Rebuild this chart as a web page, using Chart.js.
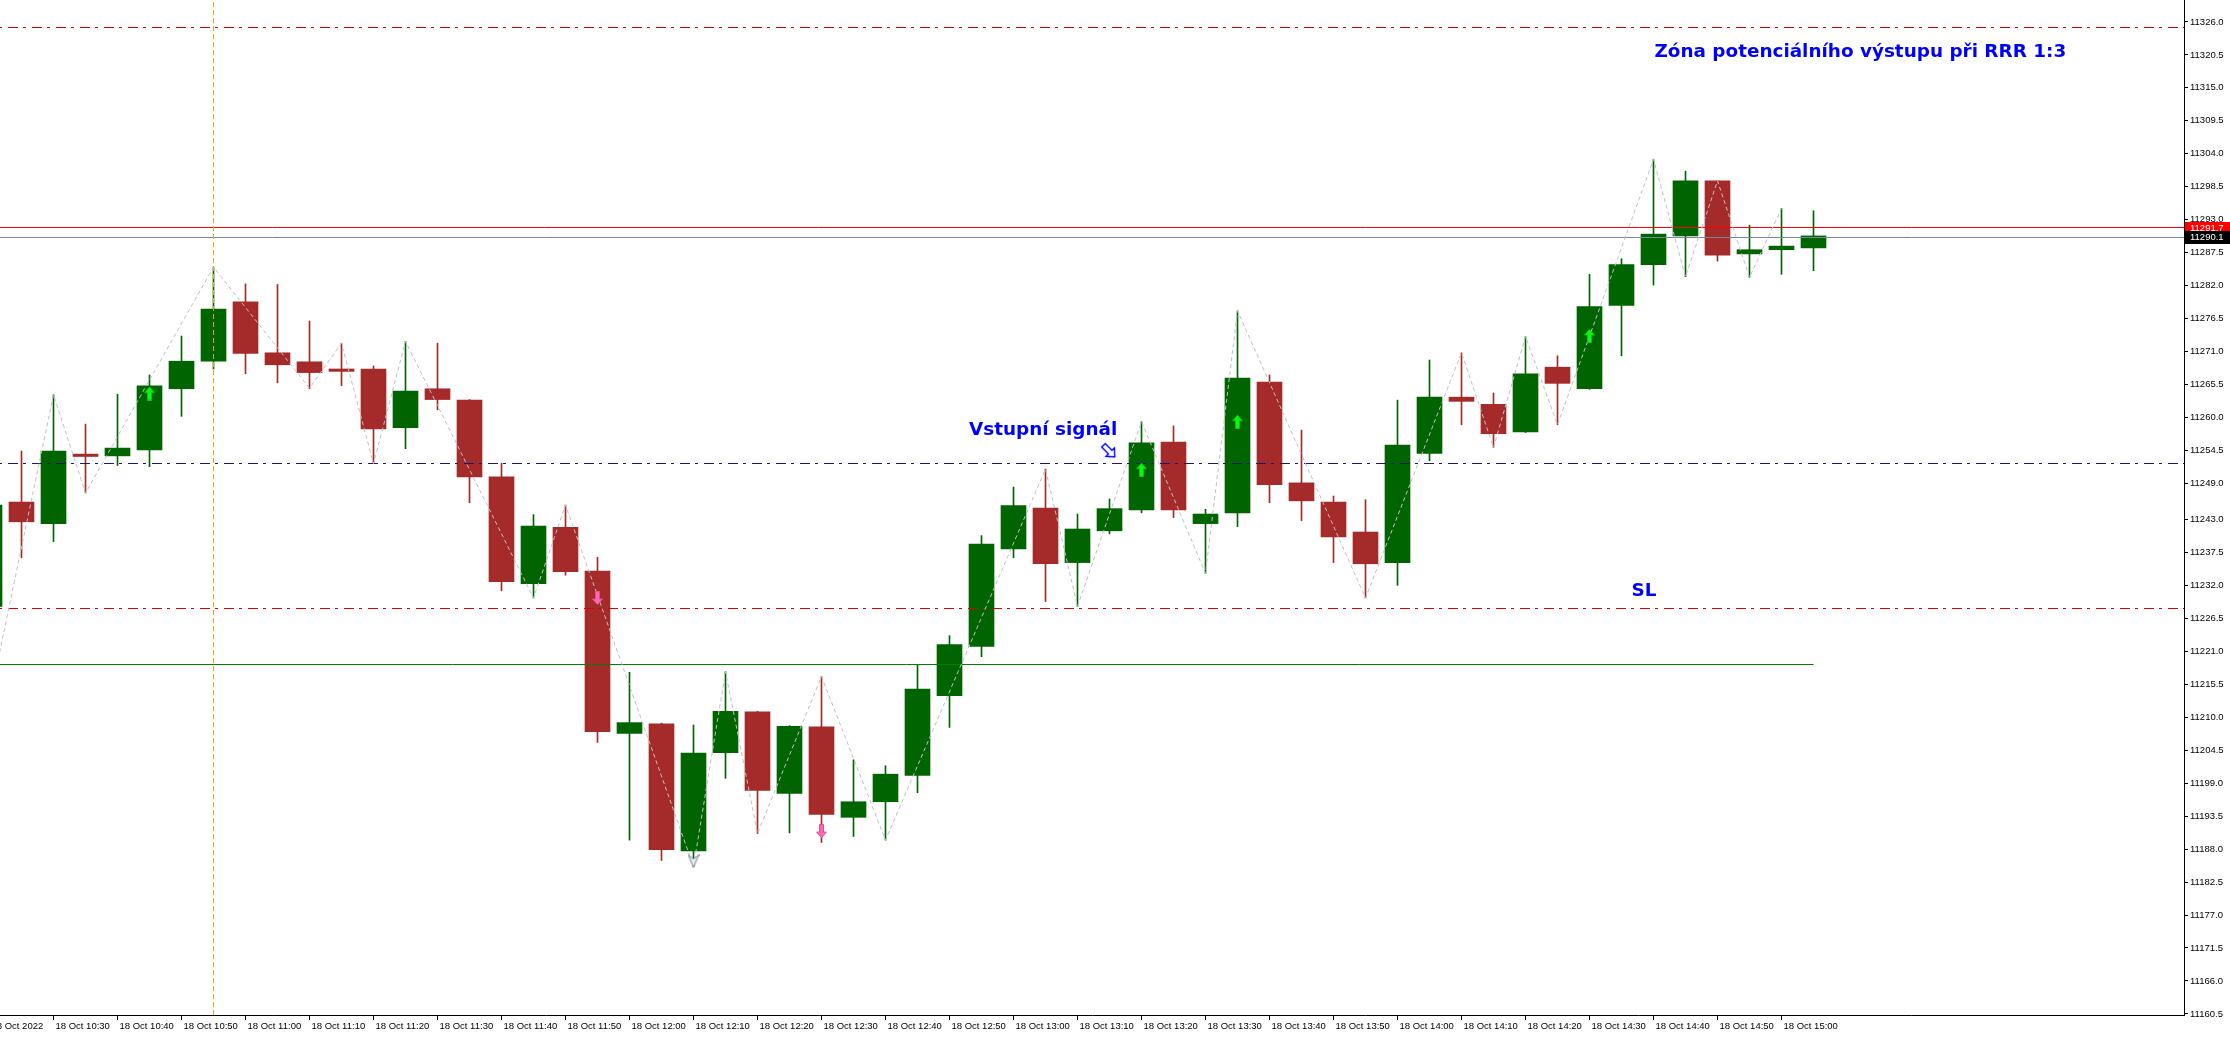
<!DOCTYPE html>
<html>
<head>
<meta charset="utf-8">
<script src="https://cdn.jsdelivr.net/npm/chart.js"></script>
<style>
html,body{margin:0;padding:0;background:#ffffff;overflow:hidden}
canvas{display:block}
</style>
</head>
<body>
<canvas id="c" width="2230" height="1037" style="width:2230px;height:1037px"></canvas>
<script>
// ---------- DATA ----------
const times = ['10:20','10:25','10:30','10:35','10:40','10:45','10:50','10:55','11:00','11:05',
  '11:10','11:15','11:20','11:25','11:30','11:35','11:40','11:45','11:50','11:55',
  '12:00','12:05','12:10','12:15','12:20','12:25','12:30','12:35','12:40','12:45',
  '12:50','12:55','13:00','13:05','13:10','13:15','13:20','13:25','13:30','13:35',
  '13:40','13:45','13:50','13:55','14:00','14:05','14:10','14:15','14:20','14:25',
  '14:30','14:35','14:40','14:45','14:50','14:55','15:00','15:05'];

const openP = [11228.5,11245.9,11242.3,11253.9,11253.6,11254.6,11264.8,11269.4,11279.3,11270.8,
  11269.3,11268.1,11268.1,11258.3,11264.8,11262.9,11250.1,11232.3,11241.7,11234.4,
  11207.3,11208.9,11187.7,11204.1,11210.9,11197.3,11208.4,11193.3,11195.9,11200.3,
  11213.6,11221.8,11238.1,11244.9,11235.8,11241.1,11244.6,11255.9,11242.3,11244.1,
  11265.9,11249.1,11245.9,11240.9,11235.8,11254.0,11263.4,11262.2,11257.6,11268.4,
  11264.8,11278.7,11285.5,11290.3,11299.5,11287.3,11288.0,11288.3];
const highP = [11246.0,11254.4,11263.8,11258.9,11263.9,11267.1,11273.6,11285.1,11282.3,11282.2,
  11276.1,11272.4,11268.6,11272.7,11272.4,11263.0,11252.4,11243.8,11245.4,11236.7,
  11217.5,11209.0,11208.7,11217.6,11211.0,11208.6,11216.8,11202.9,11201.9,11218.8,
  11223.6,11240.3,11248.4,11251.4,11243.9,11246.4,11259.3,11258.6,11244.7,11277.8,
  11267.1,11257.9,11246.9,11246.3,11262.9,11269.6,11270.8,11264.1,11273.5,11270.3,
  11283.9,11286.5,11303.1,11301.1,11299.5,11292.1,11294.9,11294.5];
const lowP = [11212.8,11236.6,11239.3,11247.4,11252.0,11251.8,11260.2,11268.1,11267.3,11265.8,
  11264.8,11265.3,11252.3,11254.8,11261.3,11245.8,11231.1,11229.9,11233.7,11205.8,
  11189.5,11186.1,11185.1,11199.8,11190.6,11190.7,11189.1,11190.1,11189.5,11197.4,
  11208.3,11220.1,11236.6,11229.3,11228.5,11240.6,11244.1,11243.3,11234.0,11241.8,
  11245.8,11242.8,11235.8,11229.9,11232.0,11252.8,11258.8,11255.0,11257.5,11258.8,
  11264.7,11270.3,11282.1,11283.5,11286.1,11283.4,11283.9,11284.5];
const closeP = [11245.4,11242.6,11254.4,11253.5,11254.9,11265.3,11269.4,11278.1,11270.7,11268.8,
  11267.5,11267.7,11258.1,11264.4,11263.0,11250.1,11232.6,11241.9,11234.3,11207.6,
  11209.1,11187.9,11204.0,11211.0,11197.8,11208.5,11193.8,11195.9,11200.5,11214.7,
  11222.1,11238.9,11245.3,11235.6,11241.4,11244.8,11255.8,11244.6,11243.9,11266.6,
  11248.8,11246.1,11240.1,11235.6,11255.4,11263.4,11262.7,11257.3,11267.3,11265.7,
  11278.5,11285.5,11290.6,11299.5,11287.1,11288.0,11288.6,11290.3];

// ZigZag vertices (bar index, price)
const zzIndex = [0,2,3,7,10,11,12,13,17,18,22,23,24,26,28,33,34,36,38,39,43,46,47,48,49,52,53,54,55,56];
const zzPrice = [11212.8,11263.8,11247.4,11285.1,11264.9,11272.4,11252.3,11272.7,11229.9,11245.4,
  11185.1,11217.6,11190.6,11216.8,11189.5,11251.4,11228.5,11259.3,11234.0,11277.8,
  11229.9,11270.8,11255.0,11273.5,11258.8,11303.1,11283.5,11299.5,11283.4,11294.9];

// signal arrows
const buyArrowIdx = [5,36,39,50];
const buyArrowPrice = [11264.0,11251.3,11259.3,11273.6];
const sellArrowIdx = [19,26];
const sellArrowPrice = [11229.9,11191.0];
const swingMarkIdx = [22];
const swingMarkPrice = [11186.0];
const entryMarkIdx = [34.99];
const entryMarkPrice = [11254.4];

// levels
const targetLevel = 11325.1;   // red dash-dot (top)
const entryLevel = 11252.4;    // navy dash-dot
const stopLevel = 11228.2;     // red dash-dot (SL)
const supportLevel = 11218.8;  // green trend line
const askLevel = 11291.7;      // red solid
const bidLevel = 11290.1;      // grey solid
const vLineIdx = 7;            // vertical line at 10:55

const yTicks = [11160.5,11166.0,11171.5,11177.0,11182.5,11188.0,11193.5,11199.0,11204.5,11210.0,
  11215.5,11221.0,11226.5,11232.0,11237.5,11243.0,11249.0,11254.5,11260.0,11265.5,
  11271.0,11276.5,11282.0,11287.5,11293.0,11298.5,11304.0,11309.5,11315.0,11320.5,11326.0];

const noteTexts = ['Zóna potenciálního výstupu při RRR 1:3','Vstupní signál','SL'];

// ---------- CHART ----------
const X_MIN = 0.328125, X_MAX = 68.578125;
const Y_MIN = 11160.32, Y_MAX = 11329.66;
const GREEN = '#006400', RED = '#a52a2a';
const candleColors = openP.map((o,i) => closeP[i] >= o ? GREEN : RED);

function arrowCanvas(fill, edge, down) {
  const c = document.createElement('canvas'); c.width = 11; c.height = 14;
  const g = c.getContext('2d');
  if (down) { g.translate(0, 14); g.scale(1, -1); }
  g.beginPath();
  g.moveTo(5.5, 0.5); g.lineTo(10.5, 6); g.lineTo(7.5, 6); g.lineTo(7.5, 13.5);
  g.lineTo(3.5, 13.5); g.lineTo(3.5, 6); g.lineTo(0.5, 6); g.closePath();
  g.fillStyle = fill; g.fill(); g.strokeStyle = edge; g.lineWidth = 1; g.stroke();
  return c;
}
function chevronCanvas() {
  const c = document.createElement('canvas'); c.width = 12; c.height = 14;
  const g = c.getContext('2d');
  g.beginPath(); g.moveTo(0.5,0.5); g.lineTo(6,5); g.lineTo(11.5,0.5); g.lineTo(6,13.5); g.closePath();
  g.fillStyle = '#e8e8e8'; g.fill(); g.strokeStyle = '#7c8aa0'; g.lineWidth = 1; g.stroke();
  return c;
}
function hollowArrowCanvas() {
  const c = document.createElement('canvas'); c.width = 20; c.height = 20;
  const g = c.getContext('2d');
  g.translate(10, 10); g.rotate(Math.PI / 4);
  g.beginPath();
  g.moveTo(-8, -2.5); g.lineTo(1.5, -2.5); g.lineTo(1.5, -6); g.lineTo(8, 0);
  g.lineTo(1.5, 6); g.lineTo(1.5, 2.5); g.lineTo(-8, 2.5); g.closePath();
  g.fillStyle = '#ffffff'; g.fill(); g.strokeStyle = '#0000ff'; g.lineWidth = 1.4; g.stroke();
  return c;
}

function hLine(v, color, dash, order) {
  return { type: 'line', snap: 'y', data: [{x: X_MIN - 2, y: v}, {x: X_MAX + 2, y: v}],
    borderColor: color, borderWidth: 1, borderDash: dash || [], pointRadius: 0, order: order || 5 };
}

const AXIS_FONT = '9.5px "Liberation Sans", Arial, sans-serif';

// keeps 1px level lines crisp on the pixel grid
const snapPlugin = {
  id: 'snap',
  beforeDatasetDraw(chart, args) {
    const ds = chart.data.datasets[args.index];
    if (!ds.snap) return;
    const ctx = chart.ctx;
    ctx.save();
    if (ds.snap === 'y') {
      const y = chart.scales.y.getPixelForValue(ds.data[0].y);
      ctx.translate(0, Math.floor(y) + 0.5 - y);
    } else {
      const x = chart.scales.x.getPixelForValue(ds.data[0].x);
      ctx.translate(Math.floor(x) + 0.5 - x, 0);
    }
  },
  afterDatasetDraw(chart, args) {
    if (chart.data.datasets[args.index].snap) chart.ctx.restore();
  }
};

const notesPlugin = {
  id: 'notes',
  afterDatasetsDraw(chart) {
    const ctx = chart.ctx, xs = chart.scales.x, ys = chart.scales.y;
    const anchors = [{x: 52.03, y: 11320.2}, {x: 30.61, y: 11257.1}, {x: 51.31, y: 11230.2}];
    ctx.save();
    ctx.font = 'bold 18.4px "DejaVu Sans"';
    ctx.fillStyle = '#0000ff';
    ctx.textAlign = 'left'; ctx.textBaseline = 'alphabetic';
    noteTexts.forEach((t, i) => ctx.fillText(t, xs.getPixelForValue(anchors[i].x), ys.getPixelForValue(anchors[i].y)));
    ctx.restore();
  },
  afterDraw(chart) {
    const ctx = chart.ctx, ys = chart.scales.y;
    ctx.save();
    ctx.font = AXIS_FONT;
    ctx.textBaseline = 'middle'; ctx.textAlign = 'left';
    [[askLevel, '#ff0000'], [bidLevel, '#000000']].forEach(([v, bg]) => {
      const y = Math.round(ys.getPixelForValue(v));
      ctx.fillStyle = bg; ctx.fillRect(ys.left + 1, y - 6, ys.right - ys.left, 13);
      ctx.fillStyle = '#ffffff'; ctx.fillText(v.toFixed(1), ys.left + 6, y + 0.5);
    });
    ctx.restore();
  }
};

const tickFont = {family: '"Liberation Sans", Arial, sans-serif', size: 9.5};

new Chart(document.getElementById('c'), {
  type: 'bar',
  data: {
    datasets: [
      { type: 'scatter', data: buyArrowIdx.map((x,i) => ({x, y: buyArrowPrice[i]})),
        pointStyle: arrowCanvas('#00ff00', '#22b822', false), pointRadius: 7, order: 1 },
      { type: 'scatter', data: sellArrowIdx.map((x,i) => ({x, y: sellArrowPrice[i]})),
        pointStyle: arrowCanvas('#ff69b4', '#e0508f', true), pointRadius: 7, order: 1 },
      { type: 'scatter', data: swingMarkIdx.map((x,i) => ({x, y: swingMarkPrice[i]})),
        pointStyle: chevronCanvas(), pointRadius: 7, order: 1 },
      { type: 'scatter', data: entryMarkIdx.map((x,i) => ({x, y: entryMarkPrice[i]})),
        pointStyle: hollowArrowCanvas(), pointRadius: 10, order: 1 },
      { type: 'line', data: zzIndex.map((x,i) => ({x, y: zzPrice[i]})),
        borderColor: '#c0c0c0', borderWidth: 1, borderDash: [4,3], pointRadius: 0, tension: 0, order: 3 },
      { type: 'line', snap: 'x', data: [{x: vLineIdx, y: Y_MIN}, {x: vLineIdx, y: Y_MAX}],
        borderColor: '#daa520', borderWidth: 1, borderDash: [5,3], pointRadius: 0, order: 4 },
      hLine(targetLevel, '#e00000', [10,5,3,6]),
      hLine(entryLevel, '#191970', [10,5,3,6]),
      hLine(stopLevel, '#e00000', [10,5,3,6]),
      { type: 'line', snap: 'y', data: [{x: X_MIN - 2, y: supportLevel}, {x: times.length - 1, y: supportLevel}],
        borderColor: '#008000', borderWidth: 1, pointRadius: 0, order: 5 },
      hLine(askLevel, '#ff0000', []),
      hLine(bidLevel, '#778899', []),
      { type: 'bar', data: times.map((t,i) => ({x: i, y: [openP[i], closeP[i]]})),
        backgroundColor: candleColors, borderWidth: 0, barThickness: 25, grouped: false, order: 9 },
      { type: 'bar', data: times.map((t,i) => ({x: i, y: [lowP[i], highP[i]]})),
        backgroundColor: candleColors, borderWidth: 0, barThickness: 1, grouped: false, order: 10 }
    ]
  },
  options: {
    responsive: false, maintainAspectRatio: false, animation: false, devicePixelRatio: 1,
    layout: {padding: 0, autoPadding: false},
    plugins: {legend: {display: false}, tooltip: {enabled: false}, title: {display: false}},
    scales: {
      x: {
        type: 'linear', min: X_MIN, max: X_MAX, offset: false,
        afterBuildTicks: s => { s.ticks = times.map((t,i) => i).filter(i => i % 2 === 0).map(v => ({value: v})); },
        afterFit: s => { s.height = 22; s.paddingLeft = 0; s.paddingRight = 0; },
        ticks: {
          autoSkip: false, maxRotation: 0, minRotation: 0, align: 'start', labelOffset: 2, padding: 1,
          color: '#000000', font: tickFont,
          callback: v => (v === 0 ? '18 Oct 2022' : '18 Oct ' + times[v])
        },
        grid: {drawOnChartArea: false, drawTicks: true, tickLength: 5, color: '#000000', offset: false},
        border: {display: true, color: '#000000', width: 1}
      },
      y: {
        type: 'linear', position: 'right', min: Y_MIN, max: Y_MAX,
        afterBuildTicks: s => { s.ticks = yTicks.map(v => ({value: v})); },
        afterFit: s => { s.width = 46; s.paddingTop = 0; s.paddingBottom = 0; },
        ticks: {color: '#000000', font: tickFont, padding: 2, callback: v => Number(v).toFixed(1)},
        grid: {drawOnChartArea: false, drawTicks: true, tickLength: 4, color: '#000000'},
        border: {display: true, color: '#000000', width: 1}
      }
    }
  },
  plugins: [snapPlugin, notesPlugin]
});
</script>
</body>
</html>
